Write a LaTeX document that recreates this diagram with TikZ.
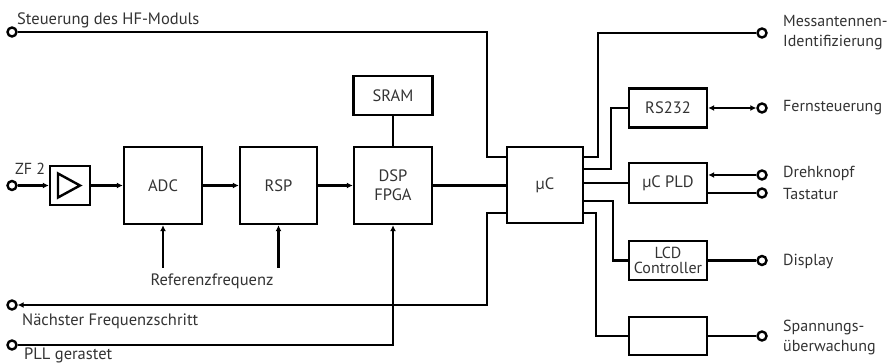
\documentclass[tikz,border=0pt]{standalone}
\usepackage{fontspec}
\setmainfont{PT Sans}
\usetikzlibrary{arrows.meta}
\begin{document}
\begin{tikzpicture}[x=1pt,y=-1pt,
  every node/.style={font=\fontsize{16.5}{17}\selectfont, text=black!80},
  blk/.style={draw, line width=2.4pt, inner sep=0pt, align=center},
  term/.style={circle, draw, line width=2.4pt, fill=white, inner sep=0pt, minimum size=9pt},
  wire/.style={line width=2.4pt},
  arr/.style={wire, -{Latex[length=6pt,width=6pt]}},
  lbl/.style={inner sep=0pt, align=left},
  rlbl/.style={lbl, anchor=west, font=\fontsize{16}{17}\selectfont}
]
\useasboundingbox (0,0) rectangle (893,363);
% blocks
\node[blk, minimum width=40pt, minimum height=39pt] (amp) at (70,185.5) {};
\draw[wire] ([xshift=-12pt,yshift=12pt]amp.center) -- ([xshift=10pt]amp.center) -- ([xshift=-12pt,yshift=-12pt]amp.center) -- cycle;
\node[blk, minimum width=78pt, minimum height=77pt] (adc) at (163,185.5) {ADC};
\node[blk, minimum width=77pt, minimum height=77pt] (rsp) at (278.5,185.5) {RSP};
\node[blk, minimum width=78pt, minimum height=77pt] (dsp) at (393,185.5) {DSP\\[2pt]FPGA};
\node[blk, minimum width=79pt, minimum height=39pt] (sram) at (393,95.5) {SRAM};
\node[blk, minimum width=76pt, minimum height=76pt] (uc) at (545,185) {µC};
\node[blk, minimum width=78pt, minimum height=39pt] (rs) at (668,108) {RS232};
\node[blk, minimum width=78pt, minimum height=40pt] (pld) at (668,183) {µC PLD};
\node[blk, minimum width=78pt, minimum height=39pt, font=\fontsize{16}{15}\selectfont] (lcd) at (668,260.5) {LCD\\[0pt]Controller};
\node[blk, minimum width=78pt, minimum height=38pt] (sp) at (668,336) {};
% terminals left
\node[term] (c0) at (12,32) {};
\node[term] (czf) at (12,185.5) {};
\node[term] (cn) at (12,305) {};
\node[term] (cp) at (12,345) {};
% terminals right
\node[term] (c1) at (762,33) {};
\node[term] (cf) at (762,108) {};
\node[term] (cd) at (762,175) {};
\node[term] (ct) at (762,193) {};
\node[term] (cdi) at (762,260.5) {};
\node[term] (cs) at (762,336) {};
% labels
\node[lbl, anchor=base west] (l0) at (17,25) {Steuerung des HF-Moduls};
\node[lbl, anchor=base west, font=\fontsize{16}{17}\selectfont] (lzf) at (15,175) {ZF 2};
\node[lbl, anchor=base west] (ln) at (22,325) {Nächster Frequenzschritt};
\node[lbl, anchor=base west] (lp) at (24,359) {PLL gerastet};
\node[lbl, anchor=base] (lref) at (212,285) {Referenzfrequenz};
\node[rlbl] (l1) at (783,33) {Messantennen-\\[3pt]Identifizierung};
\node[rlbl] (lf) at (783,108) {Fernsteuerung};
\node[rlbl] (ld) at (783,173) {Drehknopf};
\node[rlbl] (lt) at (783,194) {Tastatur};
\node[rlbl] (ldi) at (783,261) {Display};
\node[rlbl] (ls) at (783,337) {Spannungs-\\[3pt]überwachung};
% connections
\draw[arr] (czf) -- (amp);
\draw[arr] (amp) -- (adc);
\draw[arr] (adc) -- (rsp);
\draw[arr] (rsp) -- (dsp);
\draw[wire] (sram) -- (dsp);
\draw[wire] (dsp.east) -- (uc.west |- dsp.east);
\draw[wire, {Latex[length=6pt,width=6pt]}-] (adc.south) -- ++(0,43);
\draw[wire, {Latex[length=6pt,width=6pt]}-] (rsp.south) -- ++(0,43);
\draw[arr] (cp) -| (dsp.south);
\draw[wire] (c0) -| ([xshift=-19pt,yshift=28pt]uc.west) -- ([yshift=28pt]uc.west);
\draw[arr] ([yshift=-28pt]uc.west) -- ++(-19,0) |- (cn);
\draw[wire] ([yshift=28pt]uc.east) -- ++(14,0) |- (c1);
\draw[wire] ([yshift=16pt]uc.east) -- ++(27,0) |- (rs.west);
\draw[wire] (uc.east |- pld.west) -- (pld.west);
\draw[wire] ([yshift=-16pt]uc.east) -- ++(29,0) |- (lcd.west);
\draw[wire] ([yshift=-28pt]uc.east) -- ++(12,0) |- (sp.west);
\draw[wire, {Latex[length=6pt,width=6pt]}-{Latex[length=6pt,width=6pt]}] (rs) -- (cf);
\draw[wire, {Latex[length=6pt,width=6pt]}-] (pld.east |- cd) -- (cd);
\draw[wire] (pld.east |- ct) -- (ct);
\draw[wire] (lcd) -- (cdi);
\draw[wire] (sp) -- (cs);
\end{tikzpicture}
\end{document}
